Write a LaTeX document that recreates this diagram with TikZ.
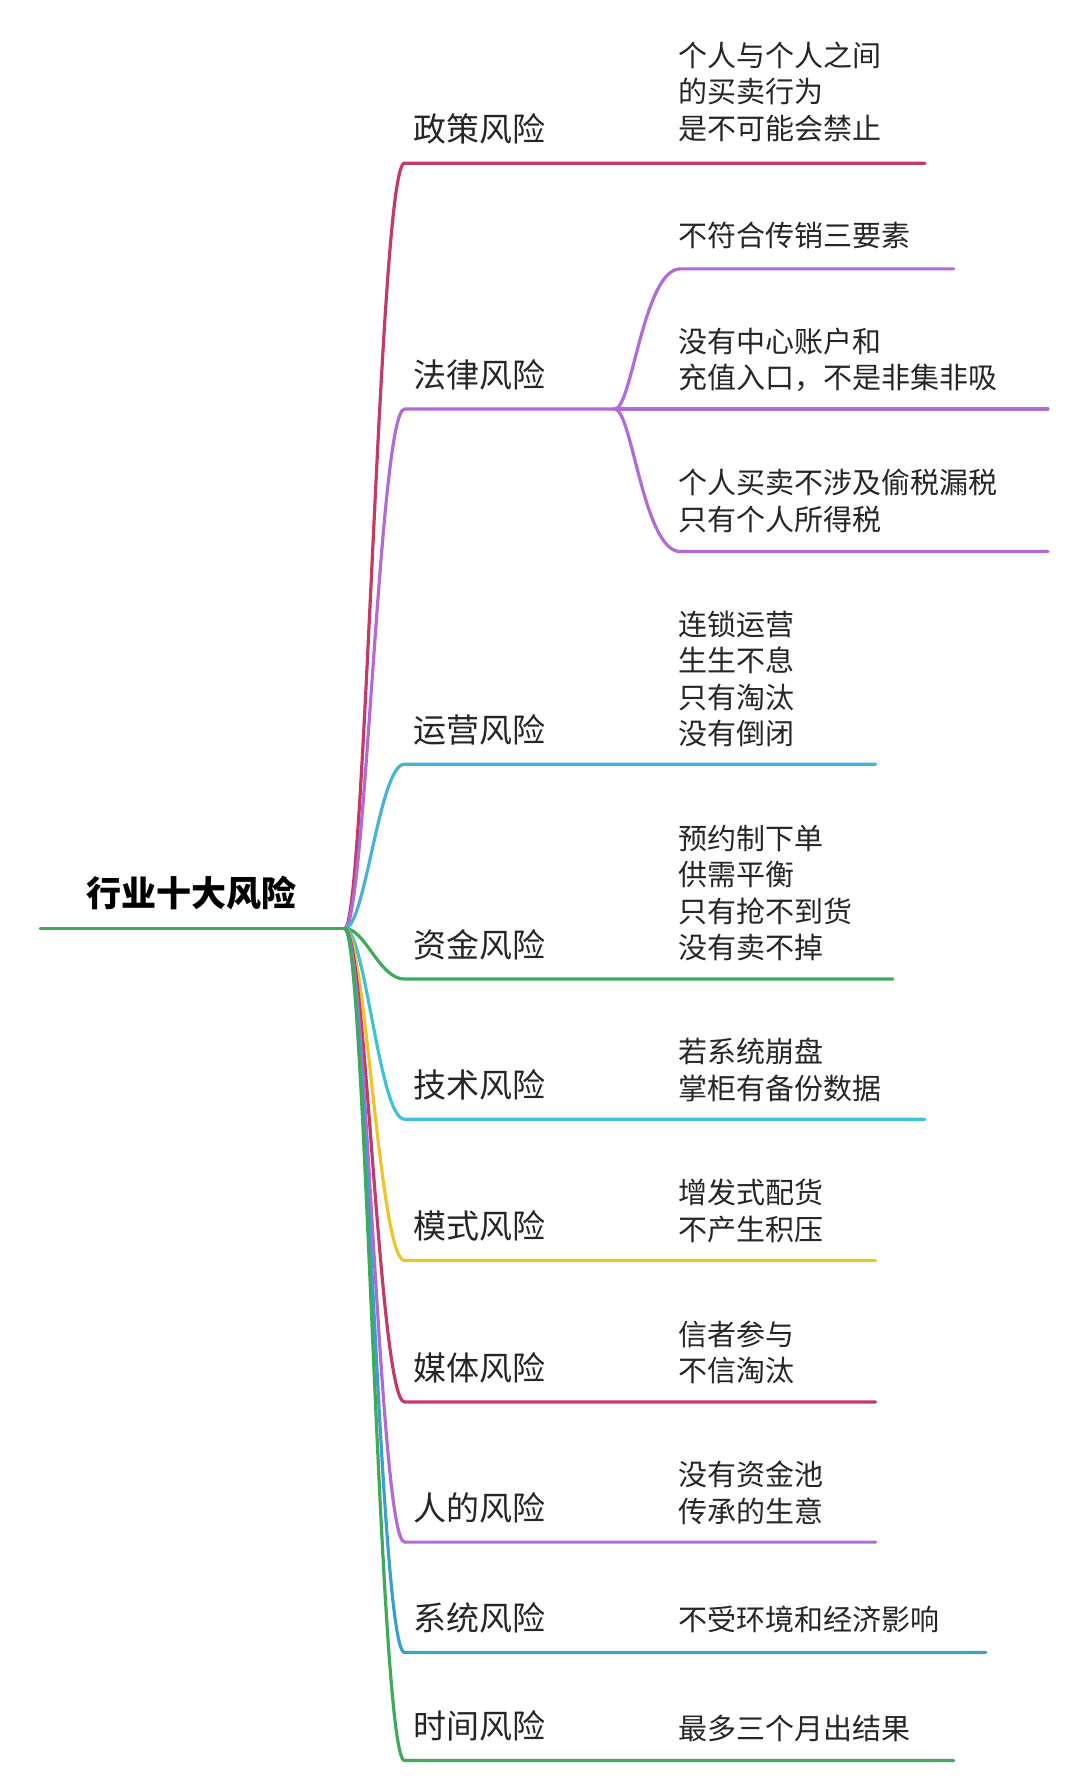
\documentclass[tikz,border=0pt]{standalone}
\usepackage{fontspec}
\setmainfont{Noto Sans CJK SC}
\begin{document}
\begin{tikzpicture}[x=1.149pt,y=-1.149pt,
  br/.style={line width=3.2pt,line cap=round},
  lab/.style={anchor=west,inner sep=0pt,font=\fontsize{33}{36}\selectfont,text=black!85},
  txt/.style={anchor=west,inner sep=0pt,align=left,font=\fontsize{29}{36.5}\selectfont,text=black!85}]
\definecolor{cR}{HTML}{C43A62}\definecolor{cP}{HTML}{B26AD8}
\definecolor{cB}{HTML}{48B2DA}\definecolor{cG}{HTML}{3FAA5A}
\definecolor{cC}{HTML}{40C2D6}\definecolor{cY}{HTML}{EEC42A}
\definecolor{cS}{HTML}{3B9FD2}
\useasboundingbox (0,0) rectangle (940,1556);
\coordinate (hub) at (300,808);
\coordinate (r0) at (35,808);
\draw[br,cG] (r0) -- (hub);
\node[inner sep=0pt,font=\fontsize{35}{38}\selectfont\bfseries] (root) at (167,777) {行业十大风险};
% branches
\foreach \n/\y/\e/\c/\l in {1/142/805/cR/政策风险,2/356/535/cP/法律风险,3/665/762/cB/运营风险,4/852/777/cG/资金风险,5/974/805/cC/技术风险,6/1097/762/cY/模式风险,7/1220/762/cR/媒体风险,8/1342/762/cP/人的风险,9/1438/858/cS/系统风险,10/1532/830/cG/时间风险}{
  \coordinate (b\n) at (352,\y);
  \coordinate (e\n) at (\e,\y);
  \draw[br,\c] (hub) .. controls (318,808) and (330,\y) .. (b\n) -- (e\n);
  \node[lab] (l\n) at (360,\y-30) {\l};
}
% legal sub-branches
\foreach \n/\y/\e in {a/234/830,b/356/912,c/480/912}{
  \coordinate (s\n) at (592,\y);
  \coordinate (t\n) at (\e,\y);
  \draw[br,cP] (e2) .. controls (550,356) and (560,\y) .. (s\n) -- (t\n);
}
\node[txt,anchor=north west] (x1) at (590,36) {个人与个人之间\\的买卖行为\\是不可能会禁止};
\node[txt] (xa) at (590,205) {不符合传销三要素};
\node[txt] (xb) at (590,313) {没有中心账户和\\充值入口，不是非集非吸};
\node[txt] (xc) at (590,436) {个人买卖不涉及偷税漏税\\只有个人所得税};
\node[txt] (x3) at (590,591) {连锁运营\\生生不息\\只有淘汰\\没有倒闭};
\node[txt] (x4) at (590,777) {预约制下单\\供需平衡\\只有抢不到货\\没有卖不掉};
\node[txt] (x5) at (590,931) {若系统崩盘\\掌柜有备份数据};
\node[txt] (x6) at (590,1054) {增发式配货\\不产生积压};
\node[txt] (x7) at (590,1177) {信者参与\\不信淘汰};
\node[txt] (x8) at (590,1299) {没有资金池\\传承的生意};
\node[txt] (x9) at (590,1409) {不受环境和经济影响};
\node[txt] (x10) at (590,1504) {最多三个月出结果};
\end{tikzpicture}
\end{document}
